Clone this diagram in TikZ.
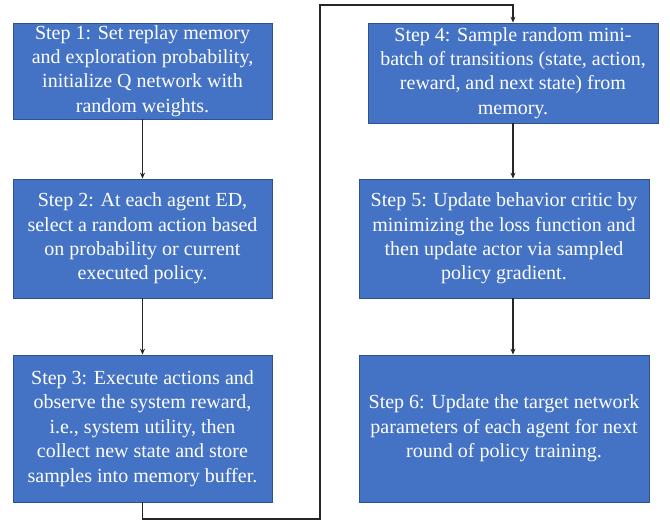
\documentclass[tikz,border=0pt]{standalone}
\usepackage{fontspec}
\setmainfont{Liberation Serif}
\usepackage{xcolor}
\usetikzlibrary{arrows.meta}
\definecolor{boxblue}{HTML}{4472C4}
\definecolor{boxedge}{HTML}{2F528F}

\begin{document}
\begin{tikzpicture}[x=1pt,y=-1pt,>={Stealth[length=6pt,width=5pt]},
  stepbox/.style={draw=boxedge,line width=0.8pt,fill=boxblue,text=white,
    align=center,inner sep=0pt,font=\fontsize{20}{24.4}\selectfont},
  flow/.style={->,line width=1.2pt,black!85}]
\path[use as bounding box] (0,0) rectangle (670,525);
% left column
\node[stepbox,minimum width=259pt,minimum height=96pt] (s1) at (142.5,71)
  {Step 1: Set replay memory\\and exploration probability,\\initialize Q network with\\random weights.};
\node[stepbox,minimum width=259pt,minimum height=119pt] (s2) at (142.5,238.5)
  {Step 2: At each agent ED,\\select a random action based\\on probability or current\\executed policy.};
\node[stepbox,minimum width=259pt,minimum height=147pt] (s3) at (142.5,428.5)
  {Step 3: Execute actions and\\observe the system reward,\\i.e., system utility, then\\collect new state and store\\samples into memory buffer.};
% right column
\node[stepbox,minimum width=290pt,minimum height=100pt] (s4) at (513,73)
  {Step 4: Sample random mini-\\batch of transitions (state, action,\\reward, and next state) from\\memory.};
\node[stepbox,minimum width=290pt,minimum height=119pt] (s5) at (504,238.5)
  {Step 5: Update behavior critic by\\minimizing the loss function and\\then update actor via sampled\\policy gradient.};
\node[stepbox,minimum width=290pt,minimum height=147pt] (s6) at (504,428.5)
  {Step 6: Update the target network\\parameters of each agent for next\\round of policy training.};
% connectors
\coordinate (low) at (320,519);
\coordinate (high) at (320,5);
\draw[flow] (s1.south) -- (s2.north);
\draw[flow] (s2.south) -- (s3.north);
\draw[flow] (s3.south) |- (low) -- (high) -| (s4.north);
\draw[flow] (s4.south) -- (s4.south |- s5.north);
\draw[flow] (s4.south |- s5.south) -- (s4.south |- s6.north);
\end{tikzpicture}
\end{document}
